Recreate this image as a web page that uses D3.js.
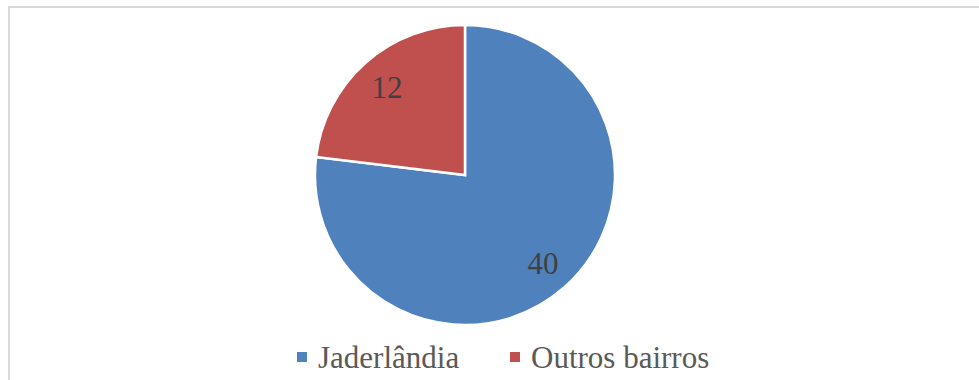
<!DOCTYPE html>
<html>
<head>
<meta charset="utf-8">
<script src="https://cdn.jsdelivr.net/npm/d3@7"></script>
<style>
  html, body { margin: 0; padding: 0; background: #fff; }
  svg { display: block; }
  text { font-family: "Liberation Serif", "Times New Roman", "DejaVu Serif", serif; }
</style>
</head>
<body>
<svg id="chart" width="979" height="380"></svg>
<script>
// Neighbourhood counts
const categories = ["Jaderlândia", "Outros bairros"];
const values = [40, 12];
const colors = ["#4F81BD", "#C0504D"];

const svg = d3.select("#chart");

// chart frame
svg.append("rect")
  .attr("x", 9).attr("y", 7)
  .attr("width", 1000).attr("height", 400)
  .attr("fill", "#fff")
  .attr("stroke", "#d9d9d9").attr("stroke-width", 2);

const cx = 465, cy = 175, r = 150;

const pie = d3.pie().sort(null).value(d => d.value)
  .startAngle(0).endAngle(2 * Math.PI);
const data = categories.map((c, i) => ({ name: c, value: values[i], color: colors[i] }));
const arcs = pie(data);
const arc = d3.arc().innerRadius(0).outerRadius(r);

const g = svg.append("g").attr("transform", `translate(${cx},${cy})`);
g.selectAll("path").data(arcs).enter().append("path")
  .attr("d", arc)
  .attr("fill", d => d.data.color)
  .attr("stroke", "#fff").attr("stroke-width", 2.5)
  .attr("stroke-linejoin", "miter");

// value labels
const labelArc = d3.arc().innerRadius(r * 0.785).outerRadius(r * 0.785);
g.selectAll("text.val").data(arcs).enter().append("text")
  .attr("class", "val")
  .attr("transform", d => {
    const [x, y] = labelArc.centroid(d);
    return `translate(${x},${y})`;
  })
  .attr("text-anchor", "middle")
  .attr("dy", "0.35em")
  .style("font-size", "31px")
  .attr("fill", "#404040")
  .text(d => d.data.value);

// legend
const legend = svg.append("g").style("font-size", "31px").attr("fill", "#595959");
const legendX = [297, 510];
categories.forEach((c, i) => {
  legend.append("rect")
    .attr("x", legendX[i]).attr("y", 352)
    .attr("width", 10).attr("height", 10)
    .attr("fill", colors[i]);
  legend.append("text")
    .attr("x", legendX[i] + 21).attr("y", 368)
    .text(c);
});
</script>
</body>
</html>
